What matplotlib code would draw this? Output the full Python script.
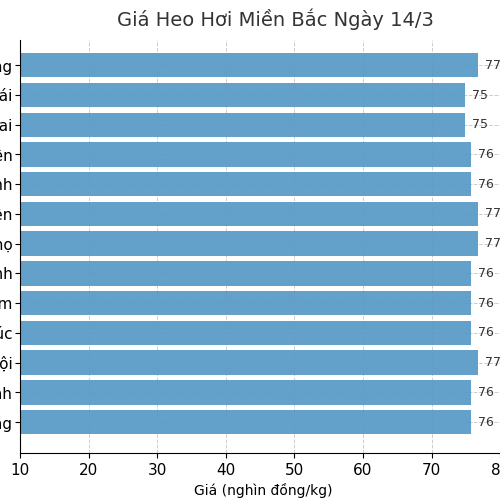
import matplotlib
matplotlib.use("Agg")
import matplotlib.pyplot as plt

provinces = ["Bắc Giang", "Yên Bái", "Lào Cai", "Hưng Yên", "Thái Bình", "Thái Nguyên",
             "Phú Thọ", "Ninh Bình", "Hà Nam", "Vĩnh Phúc", "Hà Nội", "Nam Định", "Tuyên Quang"]
prices = [77, 75, 75, 76, 76, 77, 77, 76, 76, 76, 77, 76, 76]
# bar lengths (labels are rounded)
bar_len = [76.8, 74.9, 74.9, 75.8, 75.8, 76.8, 76.8, 75.8, 75.8, 75.8, 76.8, 75.8, 75.8]

fig = plt.figure(figsize=(5, 5), dpi=100)
ax = fig.add_axes([0.04, 0.094, 0.974, 0.826])
y = list(range(len(provinces)))
ax.barh(y, bar_len, height=0.82, color="#5b9bc8", alpha=0.95, zorder=2)
for yi, v, p in zip(y, bar_len, prices):
    ax.text(v + 1, yi, f"{p}", va="center", ha="left", fontsize=9, color="#333333")
ax.set_yticks(y)
ax.set_yticklabels(provinces, fontsize=11)
ax.tick_params(axis="y", pad=2)
ax.set_ylim(13.04, -0.85)
ax.set_xlim(10, 81)
ax.set_xticks([10, 20, 30, 40, 50, 60, 70, 80])
ax.tick_params(axis="x", labelsize=11)
ax.grid(axis="both", linestyle="--", color="#cccccc", linewidth=0.7, zorder=0)
ax.set_xlabel("Giá (nghìn đồng/kg)", fontsize=10)
for s in ["top", "right"]:
    ax.spines[s].set_visible(False)
fig.text(0.55, 0.962, "Giá Heo Hơi Miền Bắc Ngày 14/3", ha="center", va="center",
         fontsize=14, color="#333333")
fig.savefig("out.png", dpi=100)
